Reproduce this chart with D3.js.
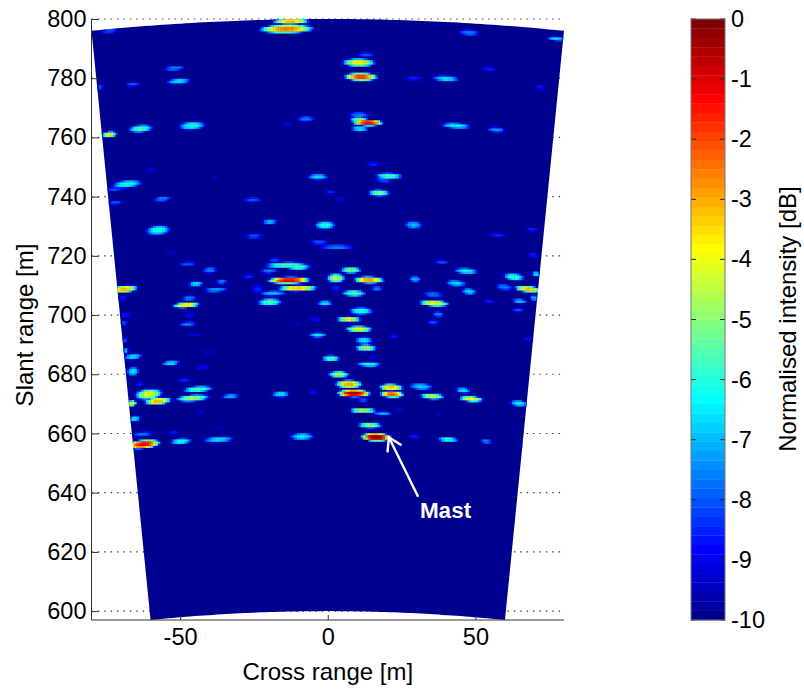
<!DOCTYPE html>
<html>
<head>
<meta charset="utf-8">
<title>Slant range map</title>
<script src="https://d3js.org/d3.v7.min.js"></script>
<style>
  html, body { margin: 0; padding: 0; background: #fff; }
  svg { display: block; }
  text { font-family: "Liberation Sans", Arial, sans-serif; fill: #000; }
</style>
</head>
<body>
<div id="container"></div>
<script>
// one entry per bright return
// cross range [m], slant range [m], half width [m], half height [m], peak [dB]
const blobCross = [
  -12.5, -12, -14, -74, -52, -50.5, -66, -77, -74, -63.4,
  -46, -7.5, -13.5, -60, -38, -3.4, -68, -72, -72, -56,
  -25.5, -19.7, -57.5, -1, -25, -3, 3, 47.8, 77.3, 12.9,
  10.5, 11.2, 29, 40, 54.6, 72, 10.5, 13.6, 10.5, 10.8,
  43.4, 57, 15.3, 20.7, 19, 17.3, 1, 4.4, 29, 57.6,
  69, -53, -47.5, -40, -44.7, -36, -69, -38, -69.5, -47,
  -48, -68.5, -46.8, -47.5, -69, -45, -68.8, -68.5, -66, -53.2,
  -40.7, -42.4, -66, -48.8, -63.7, -60.7, -44, -45.8, -57.6, -66.4,
  -33, -16, -5, -43, -65.5, -62.7, -52.2, -37, -62.4, -49.8,
  -37, -8.8, -14.2, -10, -18, -20, -26.8, -13.2, -10.2, -23.7,
  -18.6, -19.7, -1, -4.4, -10, -3.4, 1, 2.7, 7.8, 13.9,
  16.6, 29.5, 2.7, 8.8, 38.6, 46.8, 43.4, 47.8, 35.6, 36,
  63, 59.7, 70.5, 67.8, 69.8, 54.6, 65, 64.4, 69.5, 67.8,
  11.2, 7.1, 37.3, 35.6, 10.5, 22.4, 12.2, 12.9, 15.3, 13.9,
  3.7, 7.1, 8.8, 21.4, 21.7, 31.5, 35.3, 45.8, 48.5, 11.9,
  64.7, 11.9, 18.6, 24, 37.6, 14.2, 16.3, 29.2, 40.7, 53.6,
  65.4
];
const blobRange = [
  799.3, 800, 796.7, 796, 783.4, 779, 778, 777, 761, 763,
  764, 766.3, 764.6, 749, 746.4, 746.7, 744.3, 742.6, 738, 739.3,
  739, 731.5, 728.7, 730.4, 726.7, 724.7, 723, 795.4, 793.4, 788,
  785.3, 780.5, 780, 779.9, 783.2, 777, 767.7, 765, 766, 763,
  764, 762.6, 751, 747, 745.6, 741.3, 741.6, 739.3, 730.5, 727,
  729, 721, 717.3, 715.2, 710.6, 711.3, 708.8, 708.6, 705.7, 705.7,
  703.4, 700, 700, 697, 697.3, 693.3, 691.5, 688, 686, 683.8,
  687.5, 682.4, 681, 678, 676.7, 673.3, 675, 672, 671, 670.2,
  672.6, 673.3, 674, 667, 665, 659.8, 660.4, 661.8, 656.4, 657.4,
  658, 659, 716.9, 716.3, 718.6, 714.9, 713, 711.8, 709.1, 708.8,
  707.4, 704.4, 704, 698.6, 697, 693.3, 685.4, 712.5, 715.2, 711.9,
  709, 712.2, 709.2, 707.4, 718, 714.9, 710.8, 708, 707, 704,
  712.9, 709.5, 713.9, 708.8, 705.8, 704.7, 704.7, 701.7, 720.3, 691.9,
  701.4, 698.6, 700.3, 697.6, 695.3, 692.9, 691.5, 688.9, 685.8, 683.4,
  680, 676.7, 673.6, 675.6, 673.3, 675.9, 672.6, 674.6, 671.7, 671.3,
  670.2, 667.8, 666.8, 668, 666.8, 662.8, 658.8, 659, 658, 657.4,
  655.7
];
const blobHalfW = [
  6, 4, 9, 2.8, 3.6, 4, 2.5, 1, 2.5, 4,
  4.5, 3, 2, 1.5, 1, 3.5, 5, 3, 2.5, 3,
  3, 2.5, 4, 3.5, 3, 3, 6, 3.5, 3, 3,
  5.5, 5.5, 3, 4.5, 2.5, 2, 3.5, 5, 3, 3,
  5, 3, 2.5, 4.5, 3, 3.5, 2, 2, 3, 3,
  2, 2, 3, 2.5, 2.5, 2, 4.5, 4, 1.5, 2.5,
  4.5, 2, 2, 3, 1, 2, 1, 1, 3, 3,
  2, 2.5, 2, 2.5, 1.5, 4.5, 5, 5.5, 4.5, 1.5,
  3, 3, 1.5, 1.5, 2, 3.5, 2, 1.5, 5.5, 3.5,
  5, 4, 7, 4, 2, 3, 2, 7, 6.5, 2,
  4.5, 4, 2.5, 2, 1.5, 3, 3, 3, 3.5, 5,
  2, 2, 2, 4, 2.5, 4, 3.5, 2.5, 3.5, 5,
  3.5, 3, 1.5, 4.5, 1.5, 2, 2.5, 2, 2, 2,
  4, 4, 2, 2, 4.5, 1.5, 3, 3.5, 1.5, 4,
  3.5, 4.5, 5.5, 4, 4, 4, 4, 2.5, 4, 2,
  3, 4.5, 3, 1.5, 1, 4, 5, 2, 3.5, 2,
  1
];
const blobHalfH = [
  1, 0.7, 1.4, 0.8, 0.8, 0.9, 0.7, 0.8, 1, 1.2,
  1.3, 0.9, 0.7, 0.8, 0.6, 0.9, 1.2, 0.7, 0.7, 0.8,
  0.8, 0.9, 1.6, 1.3, 0.8, 0.8, 0.7, 1, 0.7, 0.7,
  1.3, 1.3, 0.7, 1, 0.7, 0.7, 0.8, 1, 1, 1,
  0.9, 0.8, 0.7, 1, 0.8, 1.1, 0.7, 0.6, 1.3, 0.7,
  0.7, 0.6, 0.7, 1, 0.9, 0.7, 1.2, 0.8, 0.7, 1,
  0.9, 0.7, 0.7, 0.7, 0.8, 0.6, 0.8, 1, 1, 0.8,
  0.6, 0.7, 1.5, 0.7, 0.7, 1.7, 1, 1.1, 1.2, 0.9,
  0.8, 1, 0.6, 0.8, 1, 0.7, 0.7, 0.6, 1.4, 1,
  1, 1.1, 1, 1, 0.7, 0.7, 0.8, 1.1, 1, 1.5,
  0.8, 1.2, 0.9, 0.6, 0.6, 0.8, 1, 1.5, 1, 1.1,
  0.7, 1, 0.8, 1, 0.6, 1, 1, 1, 1, 1,
  1.2, 1, 0.9, 1, 0.9, 0.6, 0.8, 0.7, 0.6, 0.6,
  1.2, 1, 0.9, 0.8, 1, 0.7, 1.2, 1.1, 0.7, 0.8,
  1, 1.3, 1.2, 1.1, 1.1, 1.1, 1, 0.9, 0.9, 0.8,
  1, 0.9, 0.7, 0.6, 0.5, 1, 1.3, 0.7, 0.9, 0.8,
  0.6
];
const blobPeak = [
  -3, -6.5, -2.5, -8, -7.5, -6.5, -8, -8, -4, -5.5,
  -6, -7.5, -9, -9, -9.3, -6.5, -6, -8, -8, -7.5,
  -8, -7, -6, -6, -8, -8, -7.5, -7.5, -6.5, -8,
  -3.8, -1.8, -8.5, -6.5, -8.5, -8.5, -7.5, -1.2, -5, -6.5,
  -6.2, -7.3, -8.5, -5.5, -8, -5, -8.5, -9, -7, -8.5,
  -8.5, -9.3, -8, -7.5, -6.5, -7.5, -3.2, -7.2, -8.5, -7.5,
  -3.5, -8.5, -8.7, -7.5, -8, -9, -8, -7, -6.5, -6.5,
  -9.3, -8.7, -6.5, -8.5, -8.5, -4, -5.5, -4.7, -3.2, -3.5,
  -7, -6.5, -8.5, -9.2, -6.5, -7.5, -8.7, -9.2, -1.2, -6,
  -6.5, -6.3, -5.5, -5.5, -8, -7.5, -8.5, -1, -3.2, -8.5,
  -6.8, -5.5, -6.5, -8.5, -9.3, -6.5, -5.5, -4.5, -5, -2.7,
  -7.5, -7, -8.5, -5.3, -8, -6.3, -6.7, -6.5, -7.7, -3.7,
  -5.8, -7.5, -6.5, -3.3, -7, -8.5, -6.8, -8, -8.5, -8.7,
  -6, -4, -7.5, -8, -4, -8.5, -6.5, -4.7, -8.8, -6,
  -4.5, -3, -0.3, -3.2, -2, -6.7, -4.5, -6.5, -3.8, -8,
  -6.3, -4.5, -7, -9.2, -9.3, -5, -0.1, -8.5, -6, -7.5,
  -9
];
const rangeTicks = [600, 620, 640, 660, 680, 700, 720, 740, 760, 780, 800];
const crossTicks = [-50, 0, 50];
const dbTicks = [0, -1, -2, -3, -4, -5, -6, -7, -8, -9, -10];

const width = 804,
      height = 690,
      margin = { top: 19, bottom: 70, left: 91.5, right: 240 };

const svg = d3.select("#container").append("svg")
    .attr("width", width)
    .attr("height", height);

const x = d3.scaleLinear().domain([-80, 80]).range([margin.left, width - margin.right]);
const y = d3.scaleLinear().domain([597, 800]).range([height - margin.bottom, margin.top]);
const barY = d3.scaleLinear().domain([-10, 0]).range([height - margin.bottom, margin.top]);

// matlab jet, 64 levels
const clamp = d3.scaleLinear().domain([0, 1]).range([0, 255]).clamp(true);
const jet = d3.range(64).map(function(i) {
  const t = (i + 1) / 64;
  return d3.rgb(clamp(1.5 - Math.abs(4 * t - 3)), clamp(1.5 - Math.abs(4 * t - 2)), clamp(1.5 - Math.abs(4 * t - 1))).formatRgb();
});
const color = d3.scaleQuantize().domain([-10, 0]).range(jet);

// dotted range lines go under the sector
svg.append("g").selectAll("line")
    .data(rangeTicks)
    .join("line")
    .attr("x1", x(-80)).attr("x2", x(80))
    .attr("y1", d => y(d)).attr("y2", d => y(d))
    .attr("stroke", "#333")
    .attr("stroke-width", 1.2)
    .attr("stroke-dasharray", "1.4 5");

// the sector: sin(half angle) = 0.1, range 600 to 800
const sinMax = 0.1;
const steps = d3.range(-40, 41).map(d => d / 40 * sinMax);
const outer = steps.map(s => [s * 800, Math.sqrt(1 - s * s) * 800]);
const inner = steps.slice().reverse().map(s => [s * 600, Math.sqrt(1 - s * s) * 600]);
const sectorPath = d3.line().x(d => x(d[0])).y(d => y(d[1]))(outer.concat(inner)) + "Z";

svg.append("path").attr("d", sectorPath).attr("fill", color(-10));
svg.append("clipPath").attr("id", "sector").append("path").attr("d", sectorPath);

// image cells: each return spreads over the pixels around its peak, along the range arc
const cellW = 0.8, cellH = 0.7;
const cells = new Map();
blobCross.forEach(function(cx, i) {
  const r0 = Math.hypot(cx, blobRange[i]);
  const hw = blobHalfW[i] * 1.1, hh = blobHalfH[i] * 1.15, peak = blobPeak[i];
  const ix0 = Math.floor((cx - hw) / cellW), ix1 = Math.ceil((cx + hw) / cellW);
  const slope = Math.abs(cx) / blobRange[i] * hw;
  const iy0 = Math.floor((blobRange[i] - hh - slope) / cellH), iy1 = Math.ceil((blobRange[i] + hh + slope) / cellH);
  for (let ix = ix0; ix <= ix1; ix++) {
    for (let iy = iy0; iy <= iy1; iy++) {
      const px = (ix + 0.5) * cellW, py = (iy + 0.5) * cellH;
      const u = (px - cx) / hw, v = (Math.hypot(px, py) - r0) / hh;
      const d2 = u * u + v * v;
      if (d2 >= 1) continue;
      const val = peak - (10 + peak) * Math.pow(d2, 1.3);
      const key = ix + "," + iy;
      if (!cells.has(key) || cells.get(key).val < val) cells.set(key, { ix: ix, iy: iy, val: val });
    }
  }
});

svg.append("g")
    .attr("clip-path", "url(#sector)")
    .selectAll("rect")
    .data(Array.from(cells.values()).sort((a, b) => a.val - b.val))
    .join("rect")
    .attr("x", d => x(d.ix * cellW))
    .attr("y", d => y((d.iy + 1) * cellH))
    .attr("width", x(cellW) - x(0) + 0.3)
    .attr("height", y(0) - y(cellH) + 0.3)
    .attr("fill", d => color(d.val));

// axes
const yAxis = svg.append("g")
    .attr("transform", `translate(${margin.left}, 0)`)
    .call(d3.axisLeft(y).tickValues(rangeTicks).tickSize(-7).tickPadding(5).tickFormat(d3.format("d")));
const xAxis = svg.append("g")
    .attr("transform", `translate(0, ${height - margin.bottom})`)
    .call(d3.axisBottom(x).tickValues(crossTicks).tickSize(-5).tickPadding(8).tickFormat(d => d));

[yAxis, xAxis].forEach(function(a) {
  a.selectAll("text").style("font-size", "23.5px").attr("fill", "#000");
  a.selectAll("path, line").attr("stroke", "#333");
  a.select("path").attr("d", a === yAxis
    ? `M0,${y(800)}V${y(597)}`
    : `M${x(-80)},0H${x(80)}`);
});

svg.append("text")
    .attr("text-anchor", "middle")
    .attr("x", x(0)).attr("y", 680)
    .style("font-size", "24px")
    .text("Cross range [m]");

svg.append("text")
    .attr("text-anchor", "middle")
    .attr("transform", `translate(33, 325) rotate(-90)`)
    .style("font-size", "24px")
    .text("Slant range [m]");

// mast annotation
const tip = [x(20.7), y(658.7)], tail = [x(30.6), y(638.6)];
const ang = Math.atan2(tail[1] - tip[1], tail[0] - tip[0]);
const head = [ang - 0.55, ang + 0.55].map(a => [tip[0] + 15 * Math.cos(a), tip[1] + 15 * Math.sin(a)]);
svg.append("path")
    .attr("d", d3.line()([tail, tip]) + d3.line()([head[0], tip, head[1]]))
    .attr("fill", "none")
    .attr("stroke", "#fff")
    .attr("stroke-width", 2.4);
svg.append("text")
    .attr("x", x(31.2)).attr("y", y(631.4))
    .style("font-size", "22.5px")
    .style("font-weight", "bold")
    .style("fill", "#fff")
    .text("Mast");

// colour bar
const bar = svg.append("g");
const barX = 691, barW = 34;
bar.selectAll("rect")
    .data(jet)
    .join("rect")
    .attr("x", barX)
    .attr("y", (d, i) => barY(-10 + (i + 1) * 10 / 64))
    .attr("width", barW)
    .attr("height", barY(0 - 10 / 64) - barY(0) + 0.3)
    .attr("fill", d => d);

const barAxis = bar.append("g")
    .attr("transform", `translate(${barX + barW}, 0)`)
    .call(d3.axisRight(barY).tickValues(dbTicks).tickSize(0).tickPadding(6).tickFormat(d => d));
barAxis.select("path").remove();
barAxis.selectAll("text").style("font-size", "23.5px").attr("fill", "#000");

bar.append("g").selectAll("path")
    .data(dbTicks)
    .join("path")
    .attr("d", d => `M${barX},${barY(d)}h5M${barX + barW},${barY(d)}h-5`)
    .attr("stroke", "#222")
    .attr("fill", "none");

bar.append("rect")
    .attr("x", barX).attr("y", barY(0))
    .attr("width", barW).attr("height", barY(-10) - barY(0))
    .attr("fill", "none")
    .attr("stroke", "#777");

svg.append("text")
    .attr("text-anchor", "middle")
    .attr("transform", `translate(796, 319) rotate(-90)`)
    .style("font-size", "24px")
    .text("Normalised intensity [dB]");
</script>
</body>
</html>
